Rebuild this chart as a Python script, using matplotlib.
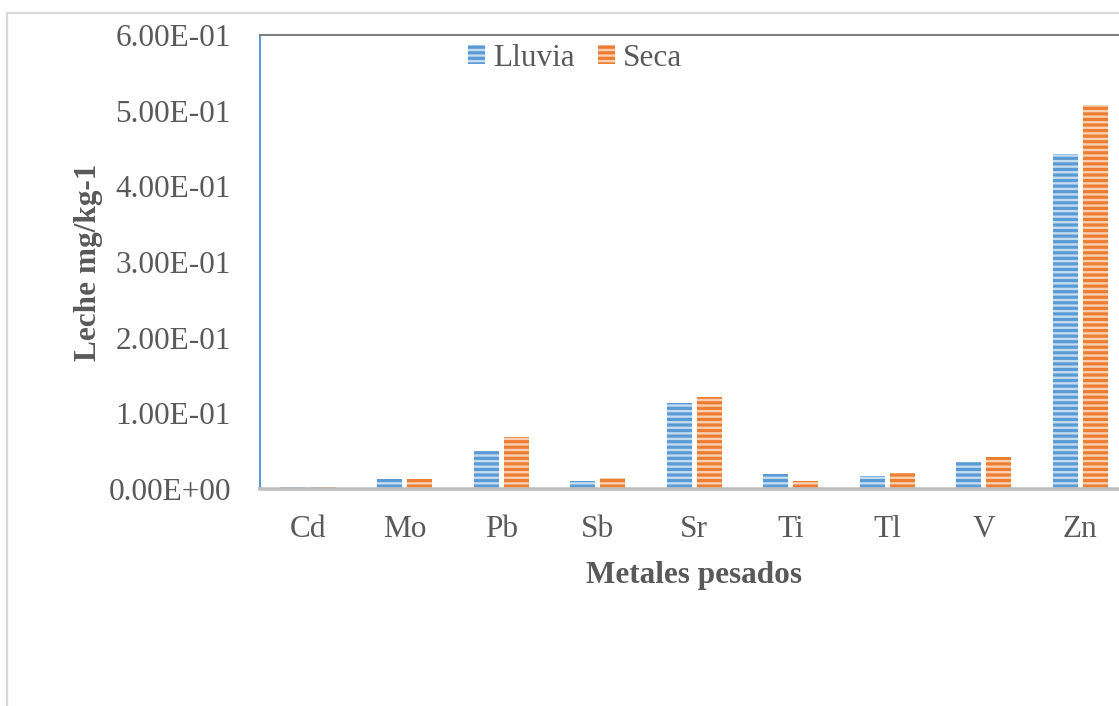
import numpy as np
import matplotlib
matplotlib.use('Agg')
import matplotlib.pyplot as plt
from matplotlib.patches import Rectangle
from matplotlib.ticker import FuncFormatter, MultipleLocator

# values (mg/kg-1)
metales = ['Cd', 'Mo', 'Pb', 'Sb', 'Sr', 'Ti', 'Tl', 'V', 'Zn']
lluvia = [0.002, 0.013, 0.050, 0.011, 0.114, 0.020, 0.017, 0.036, 0.443]
seca = [0.002, 0.013, 0.069, 0.015, 0.122, 0.010, 0.021, 0.042, 0.508]

TEXT = '#595959'
plt.rcParams['font.family'] = ['Liberation Serif', 'DejaVu Serif']
plt.rcParams['hatch.linewidth'] = 2.3

W, H = 1119, 706
fig = plt.figure(figsize=(W / 100, H / 100), dpi=100)

# outer chart-area border (runs off the right and bottom of the picture)
fig.patches.append(Rectangle((7 / W, -0.1), 1.2, 1 - 13 / H + 0.1,
                             transform=fig.transFigure, fill=False,
                             edgecolor='#d9d9d9', linewidth=1.6))

# plot area: 9 categories of ~96.5 px, so the right edge is past the image
left, top, bottom = 260, 35, 489
ax = fig.add_axes([left / W, (H - bottom) / H, 9 * 96.5 / W, (bottom - top) / H])

x = np.arange(len(metales))
bw = 0.26
off = 0.155
ax.bar(x - off, lluvia, bw, facecolor='#c5dbf0', edgecolor='#5b9bd5',
       linewidth=0, hatch='---', label='Lluvia')
ax.bar(x + off, seca, bw, facecolor='#f9d0b4', edgecolor='#ed7d31',
       linewidth=0, hatch='---', label='Seca')

ax.set_xlim(-0.5, len(metales) - 0.5)
ax.set_ylim(0, 0.6)
ax.yaxis.set_major_locator(MultipleLocator(0.1))
ax.yaxis.set_major_formatter(FuncFormatter(lambda v, p: f'{v:.2E}'))
ax.set_xticks(x)
ax.set_xticklabels(metales)
ax.tick_params(axis='y', length=0, pad=21, labelsize=22.5, labelcolor=TEXT)
ax.tick_params(axis='x', length=0, pad=19, labelsize=22.5, labelcolor=TEXT)

ax.spines['left'].set_color('#5b9bd5')
ax.spines['left'].set_linewidth(1.5)
ax.spines['top'].set_color('#808080')
ax.spines['top'].set_linewidth(1.5)
ax.spines['bottom'].set_color('#bfbfbf')
ax.spines['bottom'].set_linewidth(2.6)
ax.spines['right'].set_visible(False)

ax.set_ylabel('Leche mg/kg-1', fontsize=22.5, fontweight='bold', color=TEXT)
ax.yaxis.set_label_coords(-(left - 103) / (9 * 96.5), 0.5)
fig.text(694 / W, 1 - 575 / H, 'Metales pesados', fontsize=22.5,
         fontweight='bold', color=TEXT, ha='center', va='center')

leg = fig.legend(loc='center', bbox_to_anchor=(575 / W, 1 - 58 / H), ncol=2,
                 frameon=False, fontsize=22.5, handlelength=0.55,
                 handleheight=0.55, handletextpad=0.25, columnspacing=0.75,
                 borderpad=0)
for t in leg.get_texts():
    t.set_color(TEXT)

fig.savefig('out.png', dpi=100)
